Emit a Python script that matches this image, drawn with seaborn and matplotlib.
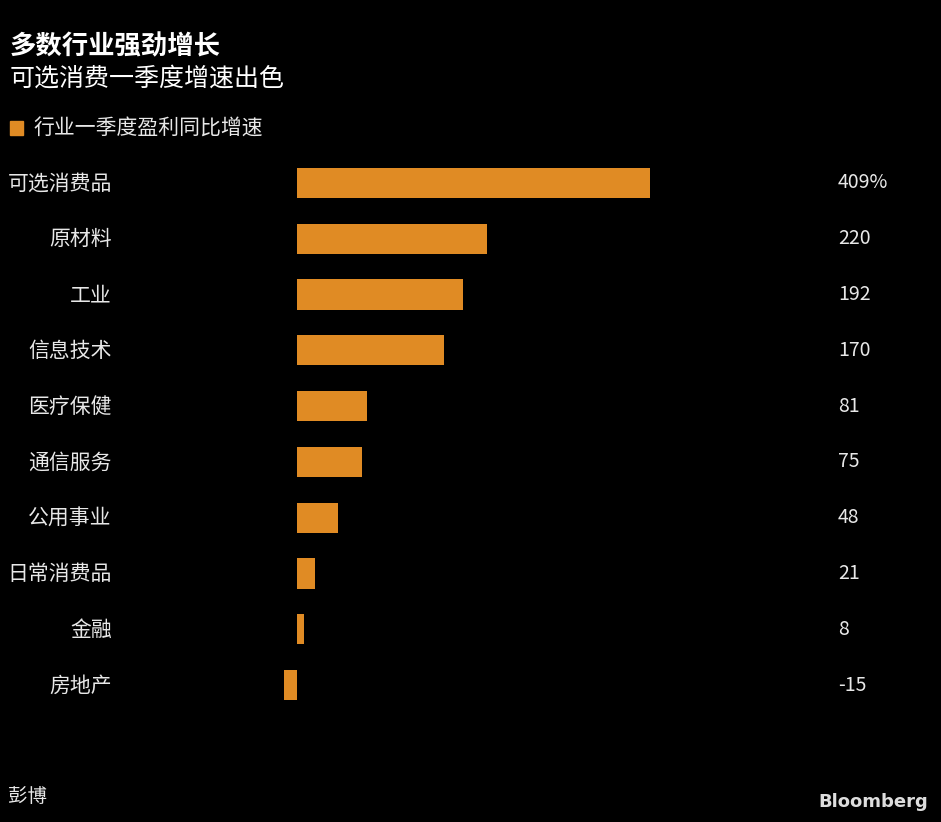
import matplotlib.pyplot as plt
import matplotlib.transforms as mtransforms
import pandas as pd
import seaborn as sns

categories = ['可选消费品', '原材料', '工业', '信息技术', '医疗保健',
              '通信服务', '公用事业', '日常消费品', '金融', '房地产']
growth = [409, 220, 192, 170, 81, 75, 48, 21, 8, -15]
value_labels = ['409%', '220', '192', '170', '81', '75', '48', '21', '8', '-15']

TITLE = '多数行业强劲增长'
SUBTITLE = '可选消费一季度增速出色'
LEGEND = '行业一季度盈利同比增速'
SOURCE = '彭博'

ORANGE = '#e08b24'
TEXT = '#e8e8e8'

df = pd.DataFrame({'category': categories, 'growth': growth})

sns.set_theme(style='white')
plt.rcParams['font.family'] = ['Noto Sans CJK SC', 'DejaVu Sans']

W, H = 941, 822
fig = plt.figure(figsize=(W / 100, H / 100), dpi=100, facecolor='black')
ax = fig.add_axes([284 / W, 1 - 713 / H, (650 - 284) / W, (713 - 155) / H])
ax.set_facecolor('black')

sns.barplot(data=df, x='growth', y='category', orient='h', color=ORANGE,
            saturation=1, width=0.54, linewidth=0, ax=ax)
ax.set_xlim(-15, 409)
ax.set_ylim(9.5, -0.5)
ax.set_xlabel('')
ax.set_ylabel('')
ax.set_xticks([])
for s in ax.spines.values():
    s.set_visible(False)
ax.tick_params(axis='y', length=0, pad=124, labelsize=15, labelcolor=TEXT)
# nudge category labels up a little so they sit on the bar centres
up = mtransforms.ScaledTranslation(0, 2 / 100, fig.dpi_scale_trans)
for lbl in ax.get_yticklabels():
    lbl.set_transform(lbl.get_transform() + up)

trans = mtransforms.blended_transform_factory(fig.transFigure, ax.transData)
for i, lab in enumerate(value_labels):
    ax.text(838 / W, i, lab, transform=trans,
            color=TEXT, fontsize=14, va='center', ha='left')

fig.text(10 / W, 1 - 47 / H, TITLE, color='white', fontsize=19, fontweight='bold', va='center')
fig.text(10 / W, 1 - 79 / H, SUBTITLE, color='white', fontsize=18, va='center')
fig.patches.append(plt.Rectangle((10 / W, 1 - 135 / H), 13 / W, 14 / H,
                                 transform=fig.transFigure, color=ORANGE, figure=fig))
fig.text(33 / W, 1 - 129 / H, LEGEND, color=TEXT, fontsize=15, va='center')
fig.text(8 / W, 1 - 796 / H, SOURCE, color=TEXT, fontsize=14, va='center')
fig.text(928 / W, 1 - 802 / H, 'Bloomberg', color='#dddddd', fontsize=13,
         fontweight='bold', family=['Liberation Sans Narrow', 'DejaVu Sans'],
         ha='right', va='center')

fig.savefig('out.png', dpi=100, facecolor='black')
